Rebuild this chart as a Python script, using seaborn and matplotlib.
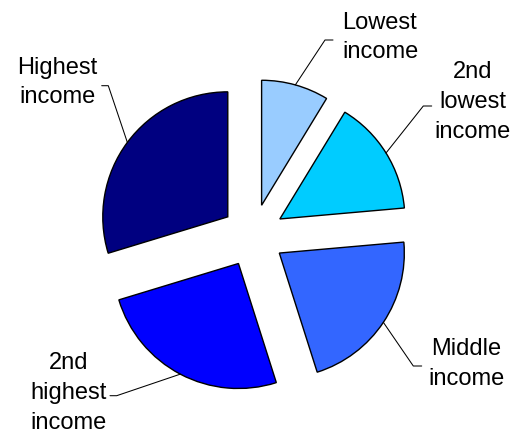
import numpy as np
import matplotlib
matplotlib.use("Agg")
import matplotlib.pyplot as plt
import seaborn as sns

# Income share by quintile (percent)
groups = ["Lowest\nincome", "2nd\nlowest\nincome", "Middle\nincome",
          "2nd\nhighest\nincome", "Highest\nincome"]
shares = [8.7, 14.9, 21.5, 25.2, 29.7]
colors = ["#99CCFF", "#00CCFF", "#3366FF", "#0000FF", "#000080"]

# Label placement: text centre, leader-line elbow and end (pixel layout, y down)
label_pos = [(380, 37.5), (473, 101.7), (466, 364), (69, 393.3), (57.5, 82.5)]
elbows = [((325, 40), (333, 40)),
          ((423.3, 106), (431.7, 106)),
          ((413.3, 366), (421.7, 366)),
          ((116.7, 395.7), (110, 395.7)),
          ((108.3, 85.7), (101.7, 85.7))]

W, H = 522, 437
sns.set_theme(style="white")
plt.rcParams["font.family"] = ["Liberation Sans", "DejaVu Sans"]

fig = plt.figure(figsize=(W / 100, H / 100), dpi=100)
ax = fig.add_axes([0, 0, 1, 1])

radius = 125
wedges, _ = ax.pie(
    shares,
    colors=sns.color_palette(colors),
    center=(253.1, 235.6),
    radius=radius,
    explode=[31.5] * len(shares),
    startangle=-90,
    counterclock=True,
    wedgeprops=dict(edgecolor="black", linewidth=1.0),
)
ax.set_xlim(0, W)
ax.set_ylim(H, 0)
ax.set_aspect("equal")
ax.axis("off")

for w, label, (tx, ty), (elb, end) in zip(wedges, groups, label_pos, elbows):
    mid = np.deg2rad(0.5 * (w.theta1 + w.theta2))
    cx, cy = w.center
    sx = cx + radius * np.cos(mid)
    sy = cy + radius * np.sin(mid)
    ax.plot([sx, elb[0], end[0]], [sy, elb[1], end[1]],
            color="black", linewidth=0.75, solid_joinstyle="miter")
    ax.text(tx, ty, label, ha="center", va="center", multialignment="center",
            fontsize=17, linespacing=1.47, color="black")

fig.savefig("out.png", dpi=100)
